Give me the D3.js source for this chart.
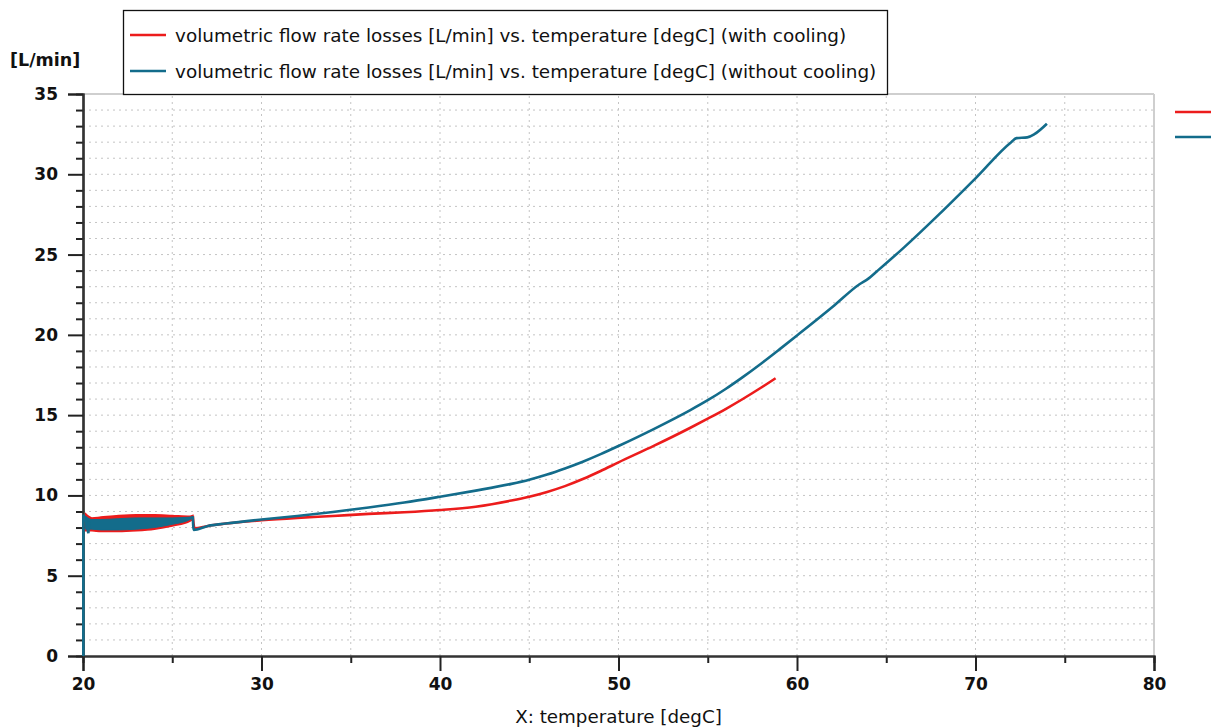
<!DOCTYPE html>
<html>
<head>
<meta charset="utf-8">
<script src="https://cdn.jsdelivr.net/npm/d3@7"></script>
<style>
  body { margin: 0; background: #fff; }
  text { font-family: "DejaVu Sans", Verdana, sans-serif; fill: #111; }
</style>
</head>
<body>
<div id="chart"></div>
<script>
// series
var blueStartX = [20.02, 20.02, 20.15, 20.3, 20.35];
var blueStartY = [0, 8.8, 8.5, 7.65, 8.4];

var bandX      = [20.15, 20.5, 21, 22, 23, 24, 25, 26, 26.15];
var blueUpper  = [8.7, 8.5, 8.5, 8.55, 8.6, 8.6, 8.6, 8.65, 8.7];
var blueLower  = [7.9, 7.9, 7.85, 7.85, 7.9, 8.0, 8.2, 8.5, 8.6];
var redUpper   = [8.85, 8.6, 8.65, 8.75, 8.8, 8.8, 8.75, 8.7, 8.75];
var redLower   = [7.8, 7.8, 7.75, 7.75, 7.8, 7.9, 8.1, 8.4, 8.55];

var blueX = [26.15, 26.2, 27, 28, 30, 32, 34, 36, 38, 40, 42, 44, 45, 46, 47, 48, 49, 50, 52, 54, 55, 56, 57, 58, 59, 60, 62, 63.5, 64, 64.5, 66, 68, 70, 72, 72.3, 72.9, 73.3, 74];
var blueY = [8.7, 7.85, 8.1, 8.25, 8.5, 8.72, 8.97, 9.25, 9.56, 9.92, 10.3, 10.72, 10.98, 11.3, 11.68, 12.1, 12.57, 13.08, 14.15, 15.3, 15.93, 16.63, 17.4, 18.22, 19.08, 19.96, 21.75, 23.15, 23.5, 23.98, 25.45, 27.55, 29.75, 32.0, 32.25, 32.3, 32.5, 33.15];

var redX = [26.15, 26.25, 27, 28, 30, 32, 34, 36, 38, 40, 42, 44, 45, 46, 47, 48, 49, 50, 52, 54, 55, 56, 58, 58.8];
var redY = [8.75, 7.95, 8.1, 8.25, 8.45, 8.6, 8.72, 8.85, 8.95, 9.09, 9.3, 9.68, 9.92, 10.22, 10.58, 11.02, 11.52, 12.06, 13.1, 14.2, 14.78, 15.38, 16.72, 17.3];

var xTicks = [20, 30, 40, 50, 60, 70, 80];
var yTicks = [0, 5, 10, 15, 20, 25, 30, 35];
var legendLabels = [
  "volumetric flow rate losses [L/min] vs. temperature [degC] (with cooling)",
  "volumetric flow rate losses [L/min] vs. temperature [degC] (without cooling)"
];

var red = "#ec1c1c";
var blue = "#136c8b";
var w = 1216, h = 727;
var margin = {top: 94, right: 62, bottom: 71, left: 83};
var innerW = w - margin.left - margin.right;
var innerH = h - margin.top - margin.bottom;

var svg = d3.select("#chart").append("svg")
    .attr("width", w)
    .attr("height", h);

var x = d3.scaleLinear().domain([20, 80]).range([margin.left, margin.left + innerW]);
var y = d3.scaleLinear().domain([0, 35]).range([margin.top + innerH, margin.top]);

// dotted grid
svg.append("g")
    .selectAll("line")
    .data(d3.range(1, 35))
    .enter().append("line")
    .attr("x1", x(20)).attr("x2", x(80))
    .attr("y1", function(d) { return y(d); })
    .attr("y2", function(d) { return y(d); })
    .attr("stroke", "#c4c4c4")
    .attr("stroke-dasharray", "2,4");

svg.append("g")
    .selectAll("line")
    .data(d3.range(25, 80, 5))
    .enter().append("line")
    .attr("x1", function(d) { return x(d); })
    .attr("x2", function(d) { return x(d); })
    .attr("y1", y(0)).attr("y2", y(35))
    .attr("stroke", "#c4c4c4")
    .attr("stroke-dasharray", "2,4");

// frame top / right
svg.append("line")
    .attr("x1", x(20)).attr("x2", x(80)).attr("y1", y(35)).attr("y2", y(35))
    .attr("stroke", "#cfcfcf").attr("stroke-width", 2);
svg.append("line")
    .attr("x1", x(80)).attr("x2", x(80)).attr("y1", y(35)).attr("y2", y(0))
    .attr("stroke", "#cfcfcf").attr("stroke-width", 2);

// axes
var xAxis = d3.axisBottom(x).tickValues(xTicks).tickSize(15).tickPadding(7).tickFormat(d3.format("d"));
var xMinor = d3.axisBottom(x).tickValues(d3.range(25, 80, 10)).tickSize(7).tickFormat("");
var yAxis = d3.axisLeft(y).tickValues(yTicks).tickSize(15).tickPadding(10).tickFormat(d3.format("d"));
var yMinor = d3.axisLeft(y).tickValues(d3.range(0, 36).filter(function(d) { return d % 5 != 0; })).tickSize(7).tickFormat("");

svg.append("g").attr("transform", "translate(0," + y(0) + ")").call(xMinor);
svg.append("g").attr("transform", "translate(" + x(20) + ",0)").call(yMinor);
svg.append("g").attr("class", "x axis").attr("transform", "translate(0," + y(0) + ")").call(xAxis);
svg.append("g").attr("class", "y axis").attr("transform", "translate(" + x(20) + ",0)").call(yAxis);

svg.selectAll(".domain").attr("stroke", "#333").attr("stroke-width", 2.2);
svg.selectAll(".tick line").attr("stroke", "#222").attr("stroke-width", 2);
svg.selectAll(".tick text")
    .attr("font-size", "17px")
    .attr("font-weight", "bold")
    .style("font-family", "'DejaVu Sans', Verdana, sans-serif")
    .attr("fill", "#111");

// bands of the oscillation
var bandData = bandX.map(function(d, i) {
  return {x: d, bu: blueUpper[i], bl: blueLower[i], ru: redUpper[i], rl: redLower[i]};
});
svg.append("path")
    .datum(bandData)
    .attr("fill", red)
    .attr("stroke", red)
    .attr("stroke-width", 1.5)
    .attr("d", d3.area().curve(d3.curveMonotoneX)
        .x(function(d) { return x(d.x); })
        .y0(function(d) { return y(d.rl); })
        .y1(function(d) { return y(d.ru); }));

var line = d3.line()
    .x(function(d) { return x(d[0]); })
    .y(function(d) { return y(d[1]); });
var smooth = d3.line()
    .curve(d3.curveMonotoneX)
    .x(function(d) { return x(d[0]); })
    .y(function(d) { return y(d[1]); });

svg.append("path")
    .datum(d3.zip(redX, redY))
    .attr("fill", "none")
    .attr("stroke", red)
    .attr("stroke-width", 2.6)
    .attr("d", smooth);

svg.append("path")
    .datum(bandData)
    .attr("fill", blue)
    .attr("stroke", blue)
    .attr("stroke-width", 1)
    .attr("d", d3.area().curve(d3.curveMonotoneX)
        .x(function(d) { return x(d.x); })
        .y0(function(d) { return y(d.bl); })
        .y1(function(d) { return y(d.bu); }));

svg.append("path")
    .datum(d3.zip(blueStartX, blueStartY))
    .attr("fill", "none")
    .attr("stroke", blue)
    .attr("stroke-width", 2.6)
    .attr("d", line);

svg.append("path")
    .datum(d3.zip(blueX, blueY))
    .attr("fill", "none")
    .attr("stroke", blue)
    .attr("stroke-width", 2.6)
    .attr("stroke-linejoin", "round")
    .attr("d", smooth);

// labels
svg.append("text")
    .attr("x", 10).attr("y", 66)
    .attr("font-size", "17.5px")
    .attr("font-weight", "bold")
    .text("[L/min]");

svg.append("text")
    .attr("x", (x(20) + x(80)) / 2).attr("y", 723)
    .attr("text-anchor", "middle")
    .attr("font-size", "18.3px")
    .text("X: temperature [degC]");

// legend box
var legend = svg.append("g");
legend.append("rect")
    .attr("x", 123.5).attr("y", 10.5)
    .attr("width", 764).attr("height", 84)
    .attr("fill", "#fff")
    .attr("stroke", "#111")
    .attr("stroke-width", 1.3);

var colors = [red, blue];
legend.selectAll(".lg")
    .data(legendLabels)
    .enter().append("line")
    .attr("x1", 130).attr("x2", 166)
    .attr("y1", function(d, i) { return 35 + i * 36; })
    .attr("y2", function(d, i) { return 35 + i * 36; })
    .attr("stroke", function(d, i) { return colors[i]; })
    .attr("stroke-width", 2.6);

legend.selectAll("text")
    .data(legendLabels)
    .enter().append("text")
    .attr("x", 175)
    .attr("y", function(d, i) { return 42 + i * 36; })
    .attr("font-size", "18.4px")
    .text(function(d) { return d; });

// right-hand legend stubs
svg.selectAll(".stub")
    .data(colors)
    .enter().append("line")
    .attr("x1", 1175).attr("x2", 1211)
    .attr("y1", function(d, i) { return 112 + i * 25; })
    .attr("y2", function(d, i) { return 112 + i * 25; })
    .attr("stroke", function(d) { return d; })
    .attr("stroke-width", 2.6);
</script>
</body>
</html>
